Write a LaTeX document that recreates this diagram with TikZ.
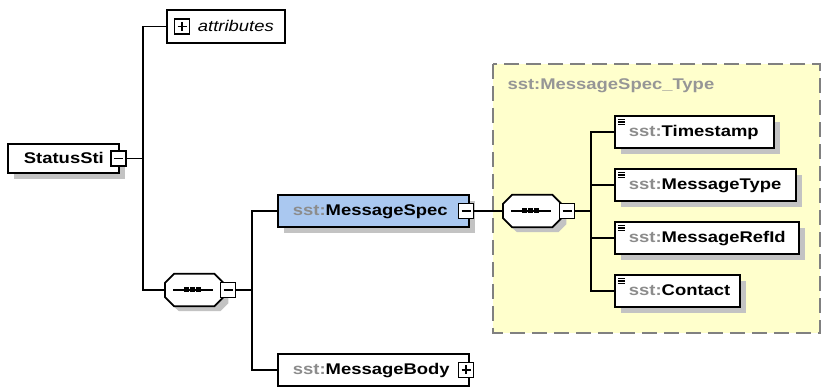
\documentclass[tikz,border=0pt]{standalone}
\usepackage{fontspec}
\setmainfont{Liberation Sans}[FakeStretch=1.19]
\usetikzlibrary{shadows}
\definecolor{specblue}{RGB}{170,200,240}
\definecolor{typeyellow}{RGB}{255,255,204}
\definecolor{shadowgray}{RGB}{195,195,195}
\definecolor{prefixgray}{RGB}{140,140,140}
\definecolor{dashgray}{RGB}{128,128,128}
\definecolor{labelgray}{RGB}{150,150,150}
\newcommand\bxt[3]{\makebox[#1pt][l]{\hspace*{#2pt}#3}}
\newcommand\pfx{\textcolor{prefixgray}{sst:}}
\newcommand\octdraw[1]{%
  \fill[shadowgray] ([shift={(14,5)}]#1.north west) -- ([shift={(-3,5)}]#1.north east) -- ([shift={(5,14)}]#1.north east) -- ([shift={(5,-3)}]#1.south east) -- ([shift={(-3,5)}]#1.south east) -- ([shift={(14,5)}]#1.south west) -- ([shift={(5,-3)}]#1.south west) -- ([shift={(5,14)}]#1.north west) -- cycle;
  \draw[line width=1.7pt, fill=white] ([shift={(9,0)}]#1.north west) -- ([shift={(-9,0)}]#1.north east) -- ([shift={(0,9)}]#1.north east) -- ([shift={(0,-9)}]#1.south east) -- ([shift={(-9,0)}]#1.south east) -- ([shift={(9,0)}]#1.south west) -- ([shift={(0,-9)}]#1.south west) -- ([shift={(0,9)}]#1.north west) -- cycle;
  \draw[line width=1.5pt] ([shift={(-21,0)}]#1.center) -- ([shift={(19,0)}]#1.center);
  \foreach \dx in {-7.5,-1.5,4.5}{\fill ([shift={(\dx-2.5,-2.5)}]#1.center) rectangle ++(5,5);}
}
\begin{document}
\begin{tikzpicture}[x=1pt,y=-1pt,
  every node/.style={font=\fontsize{15.5}{18}\selectfont},
  conn/.style={line width=1.6pt},
  elbox/.style={draw, line width=1.8pt, fill=white, anchor=west, inner sep=0pt,
    minimum height=32pt, text height=11pt, text depth=1pt,
    font=\fontsize{15.5}{18}\selectfont\bfseries},
  shadowed/.style={drop shadow={shadow xshift=6pt, shadow yshift=-6pt, fill=shadowgray, opacity=1}},
  simple/.style={path picture={\foreach \k in {3.5,6,8.5}{\draw[line width=1.1pt] ([shift={(3pt,-\k pt)}]path picture bounding box.north west) -- ++(7pt,0pt);}}},
  xbox/.style={draw, fill=white, line width=1.5pt, minimum size=15pt, inner sep=0pt},
  xminus/.style={xbox, path picture={\draw[line width=1.5pt] ([xshift=3pt]path picture bounding box.west) -- ([xshift=-3pt]path picture bounding box.east);}},
  xplus/.style={xbox, path picture={\draw[line width=1.5pt] ([xshift=3pt]path picture bounding box.west) -- ([xshift=-3pt]path picture bounding box.east); \draw[line width=1.5pt] ([yshift=-3pt]path picture bounding box.north) -- ([yshift=3pt]path picture bounding box.south);}},
  seqnode/.style={minimum width=58pt, minimum height=32pt, inner sep=0pt, anchor=west}
]
\useasboundingbox (0,0) rectangle (823,387);

% type region
\draw[dashgray, fill=typeyellow, line width=1.6pt, dash pattern=on 15pt off 7pt] (493,64) rectangle (820,333);
\node[anchor=west, text=labelgray, font=\fontsize{15.5}{18}\selectfont\bfseries] (typelabel) at (504,86) {sst:MessageSpec\_Type};

% nodes
\node[elbox, shadowed, minimum height=29pt] (sti) at (7,158.5) {\bxt{111}{16}{StatusSti}};
\node[elbox, minimum height=33pt, font=\fontsize{15.5}{18}\selectfont\itshape] (att) at (166,26.5) {\bxt{118}{31}{attributes}};
\node[seqnode] (seqa) at (165,290) {};
\node[seqnode] (seqb) at (503,211) {};
\node[elbox, shadowed, fill=specblue] (spec) at (277,211) {\bxt{191}{15}{\pfx MessageSpec}};
\node[elbox] (body) at (277,370) {\bxt{191}{15}{\pfx MessageBody}};
\node[elbox, shadowed, simple] (ts) at (614,132) {\bxt{159}{14}{\pfx Timestamp}};
\node[elbox, shadowed, simple] (mt) at (614,185) {\bxt{181}{14}{\pfx MessageType}};
\node[elbox, shadowed, simple] (ri) at (614,238) {\bxt{184}{14}{\pfx MessageRefId}};
\node[elbox, shadowed, simple] (ct) at (614,291) {\bxt{125}{14}{\pfx Contact}};

% junctions
\coordinate (j1) at (143,158.5);
\coordinate (j2) at (252,290);
\coordinate (j3) at (591,211);

% connectors
\draw[conn] (sti.east) -- (j1);
\draw[conn] (att.west) -| (j1) |- (seqa.west);
\draw[conn] (seqa.east) -- (j2);
\draw[conn] (spec.west) -| (j2) |- (body.west);
\draw[conn] (spec.east) -- (seqb.west);
\draw[conn] (seqb.east) -- (j3);
\draw[conn] (ts.west) -| (j3) |- (ct.west);
\draw[conn] (mt.west) -- (mt.west -| j3);
\draw[conn] (ri.west) -- (ri.west -| j3);

% compositors
\octdraw{seqa}
\octdraw{seqb}

% expand boxes
\node[xminus] (stix) at (118.5,158.5) {};
\node[xplus] (attx) at (182,26.5) {};
\node[xminus] (seqax) at (228,290) {};
\node[xminus] (seqbx) at (567,211) {};
\node[xminus] (specx) at (466,211) {};
\node[xplus] (bodyx) at (466,370) {};
\end{tikzpicture}
\end{document}
